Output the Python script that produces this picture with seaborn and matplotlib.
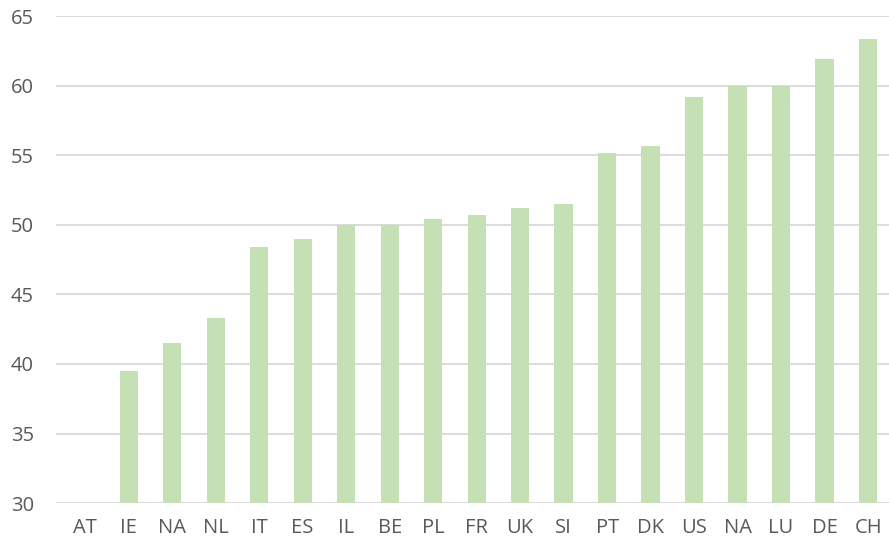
import seaborn as sns
import pandas as pd
import matplotlib
matplotlib.use('Agg')
import matplotlib.pyplot as plt

# Data
countries = ['AT', 'IE', 'NA', 'NL', 'IT', 'ES', 'IL', 'BE', 'PL', 'FR',
             'UK', 'SI', 'PT', 'DK', 'US', 'NA', 'LU', 'DE', 'CH']
values = [None, 39.5, 41.5, 43.3, 48.4, 49.0, 50.0, 50.0, 50.4, 50.7,
          51.2, 51.5, 55.2, 55.7, 59.2, 60.0, 60.0, 61.9, 63.4]
yticks = [30, 35, 40, 45, 50, 55, 60, 65]

# NA appears twice, so bars are placed by position and labelled afterwards
data = pd.DataFrame({'pos': range(len(countries)), 'value': values})

sns.set_style('white')
plt.rcParams['font.family'] = ['Open Sans', 'DejaVu Sans']

fig = plt.figure(figsize=(8.89, 5.45), dpi=100)
ax = fig.add_axes([0.063, 0.077, 0.937, 0.893])

sns.barplot(x='pos', y='value', data=data, color='#c5e0b4', saturation=1,
            width=0.42, linewidth=0, ax=ax, zorder=2)

ax.set_ylim(30, 65)
ax.set_yticks(yticks)
ax.set_xlim(-0.67, 18.48)
ax.set_xticks(range(len(countries)))
ax.set_xticklabels(countries)
ax.yaxis.grid(True, color='#d9d9d9', linewidth=1.3, zorder=0)
ax.set_axisbelow(True)
ax.tick_params(axis='both', length=0, labelsize=14.5, colors='#595959')
ax.tick_params(axis='y', pad=16)
ax.tick_params(axis='x', pad=11)
sns.despine(ax=ax, left=True, bottom=True)
ax.set_xlabel('')
ax.set_ylabel('')

fig.savefig('out.png', dpi=100)
